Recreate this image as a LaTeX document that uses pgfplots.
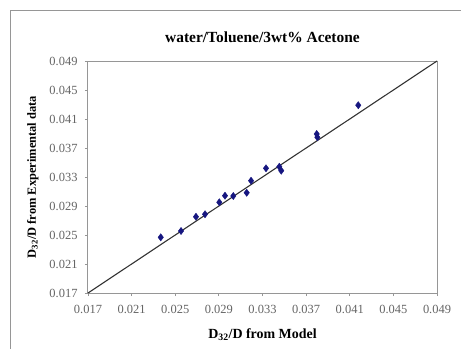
\documentclass[border=0pt]{standalone}
\usepackage{fontspec}
\setmainfont{Liberation Serif}
\usepackage{pgfplots}
\pgfplotsset{compat=1.18}
\usetikzlibrary{calc}
\definecolor{markblue}{RGB}{22,22,128}
\definecolor{framegray}{RGB}{150,150,150}
\definecolor{ticklabel}{RGB}{100,100,100}

\pgfplotstableread{
x y
0.02367 0.02468
0.02553 0.02555
0.02690 0.02752
0.02773 0.02786
0.02904 0.02951
0.02956 0.03042
0.03032 0.03038
0.03155 0.03083
0.03195 0.03249
0.03332 0.03420
0.03454 0.03442
0.03472 0.03387
0.03797 0.03893
0.03803 0.03848
0.04178 0.04290
}\expdata

\begin{document}
\begin{tikzpicture}[x=1bp,y=1bp]
\begin{axis}[
  name=ax,
  scale only axis, width=349bp, height=232bp,
  xmin=0.017, xmax=0.049, ymin=0.017, ymax=0.049,
  xtick={0.017,0.021,...,0.049}, ytick={0.017,0.021,...,0.049},
  xtick pos=left, ytick pos=left,
  tick align=outside, major tick length=3bp,
  tick style={framegray, line width=0.8bp},
  axis line style={framegray, line width=1bp},
  /pgf/number format/assume math mode=true,
  /pgf/number format/.cd, fixed, fixed zerofill, precision=3, /pgfplots/.cd,
  scaled ticks=false,
  ticklabel style={font=\fontsize{12.5}{13}\selectfont, text=ticklabel},
  xticklabel style={yshift=-6bp},
  yticklabel style={xshift=-4bp},
  title={\textbf{water/Toluene/3wt\% Acetone}},
  title style={font=\fontsize{15.5}{17}\selectfont, at={(axis description cs:0.5,1.075)}, anchor=center},
  xlabel={\textbf{D\textsubscript{32}/D from Model}},
  ylabel={\textbf{D\textsubscript{32}/D from Experimental data}},
  xlabel style={font=\fontsize{14}{15}\selectfont, at={(axis description cs:0.5,-0.181)}, anchor=center},
  ylabel style={font=\fontsize{12.5}{14}\selectfont, at={(axis description cs:-0.158,0.5)}, anchor=center},
  clip=false,
]
\addplot[black!80, line width=1.1bp] coordinates {(0.017,0.017) (0.049,0.049)};
\addplot[only marks, mark=diamond*, mark size=3.6bp, markblue, mark options={fill=markblue}] table[x=x, y=y] {\expdata};
\end{axis}
% page and outer chart frame, placed from the axis corner
\pgfresetboundingbox
\coordinate (o) at ($(ax.south west)+(-88,-55)$);
\useasboundingbox (o) rectangle ++(461,348);
\begin{scope}
\clip (o) rectangle ++(461,348);
\draw[framegray, line width=0.8bp] ($(o)+(10,-20)$) -- ($(o)+(10,337.5)$) -- ($(o)+(480,337.5)$);
\end{scope}
\end{tikzpicture}
\end{document}
